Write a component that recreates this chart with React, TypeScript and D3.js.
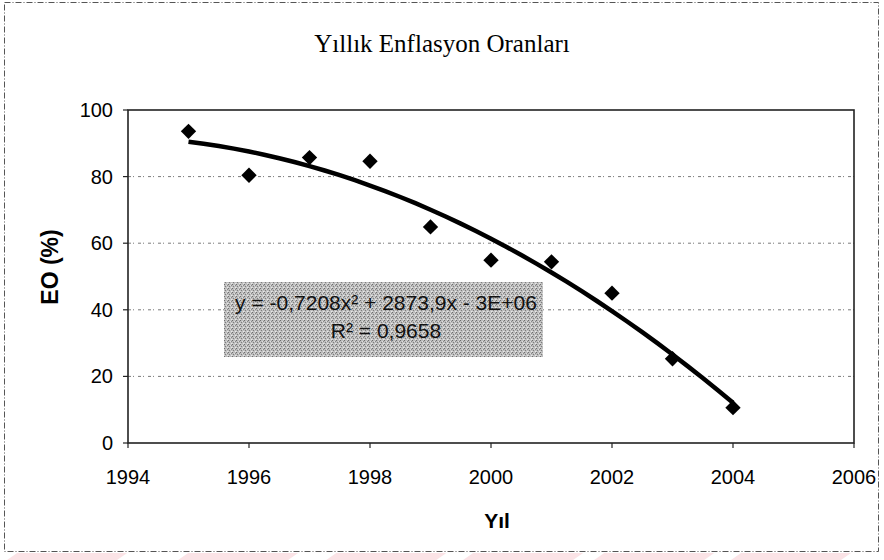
import React, { useEffect } from "react";
import * as d3 from "d3";

const years = [1995, 1996, 1997, 1998, 1999, 2000, 2001, 2002, 2003, 2004];
const rates = [93.6, 80.4, 85.7, 84.6, 64.9, 54.9, 54.4, 45.0, 25.3, 10.6];
const xTicks = [1994, 1996, 1998, 2000, 2002, 2004, 2006];
const yTicks = [0, 20, 40, 60, 80, 100];
const gridTicks = [20, 40, 60, 80];
const title = "Yıllık Enflasyon Oranları";
const xLabel = "Yıl";
const yLabel = "EO (%)";
const eqLine1 = "y = -0,7208x² + 2873,9x - 3E+06";
const eqLine2 = "R² = 0,9658";

// quadratic least squares fit (centered)
function quadFit(xs: number[], ys: number[]) {
  const m = d3.mean(xs)!;
  const u = xs.map((x) => x - m);
  const n = u.length;
  let s1 = 0, s2 = 0, s3 = 0, s4 = 0, t0 = 0, t1 = 0, t2 = 0;
  u.forEach((x, i) => {
    s1 += x; s2 += x * x; s3 += x ** 3; s4 += x ** 4;
    t0 += ys[i]; t1 += x * ys[i]; t2 += x * x * ys[i];
  });
  const A = [[n, s1, s2], [s1, s2, s3], [s2, s3, s4]];
  const B = [t0, t1, t2];
  const det = (M: number[][]) =>
    M[0][0] * (M[1][1] * M[2][2] - M[1][2] * M[2][1]) -
    M[0][1] * (M[1][0] * M[2][2] - M[1][2] * M[2][0]) +
    M[0][2] * (M[1][0] * M[2][1] - M[1][1] * M[2][0]);
  const D = det(A);
  const coef = [0, 1, 2].map((k) => det(A.map((row, i) => row.map((v, j) => (j === k ? B[i] : v)))) / D);
  return (x: number) => coef[0] + coef[1] * (x - m) + coef[2] * (x - m) ** 2;
}

const sans = "Arial, 'Liberation Sans', sans-serif";

export default function App() {
  useEffect(() => {
    document.body.style.margin = "0";
  }, []);

  const left = 128, right = 854, top = 110, bottom = 443;
  const x = d3.scaleLinear().domain([1994, 2006]).range([left, right]);
  const y = d3.scaleLinear().domain([0, 100]).range([bottom, top]);
  const f = quadFit(years, rates);
  const trendX = d3.range(years[0], years[years.length - 1] + 0.001, 0.25);
  const trendPath = d3.line<number>().x((d) => x(d)).y((d) => y(f(d)))(trendX) || "";
  const diamond = d3.symbol().type(d3.symbolDiamond2).size(150)() || "";

  return (
    <svg width={884} height={560} style={{ position: "absolute", left: 0, top: 0, background: "#fff" }}>
      <defs>
        <pattern id="dots" width="4" height="4" patternUnits="userSpaceOnUse">
          <rect width="4" height="4" fill="#bdbdbd" />
          <rect x="0" y="0" width="1" height="1" fill="#6e6e6e" />
          <rect x="2" y="1" width="1" height="1" fill="#dedede" />
          <rect x="1" y="2" width="1" height="1" fill="#7d7d7d" />
          <rect x="3" y="3" width="1" height="1" fill="#e8e8e8" />
          <rect x="3" y="1" width="1" height="1" fill="#8a8a8a" />
          <rect x="0" y="3" width="1" height="1" fill="#d4d4d4" />
        </pattern>
      </defs>
      {/* pink watermark strips at the bottom */}
      {[30, 330, 590, 830, 1060, 1300].map((px, i) => (
        <polygon key={i} points={`${px * 0.57},553 ${px * 0.57 + 110},553 ${px * 0.57 + 100},560 ${px * 0.57 - 10},560`} fill="#fbe3e6" />
      ))}
      {/* outer chart border */}
      <rect x={4.5} y={2.5} width={874} height={549} fill="none" stroke="#555" strokeWidth={1} strokeDasharray="6 2 1 2" />
      {/* title */}
      <text x={442} y={52} textAnchor="middle" fontFamily="'Liberation Serif', 'Times New Roman', serif" fontSize={25} fill="#000">
        {title}
      </text>
      {/* gridlines */}
      {gridTicks.map((t) => (
        <line key={t} x1={left} x2={right} y1={y(t)} y2={y(t)} stroke="#444" strokeWidth={1} strokeDasharray="3 2 1 4" opacity={0.7} />
      ))}
      {/* plot border */}
      <rect x={left} y={top} width={right - left} height={bottom - top} fill="none" stroke="#222" strokeWidth={1.6} />
      {/* y ticks */}
      {yTicks.map((t) => (
        <g key={t}>
          <line x1={left - 5} x2={left} y1={y(t)} y2={y(t)} stroke="#222" strokeWidth={1.2} />
          <text x={left - 15} y={y(t) + 7} textAnchor="end" fontFamily={sans} fontSize={20} fill="#000">
            {t}
          </text>
        </g>
      ))}
      {/* x ticks */}
      {xTicks.map((t) => (
        <g key={t}>
          <line x1={x(t)} x2={x(t)} y1={bottom} y2={bottom + 5} stroke="#222" strokeWidth={1.2} />
          <text x={x(t)} y={bottom + 41} textAnchor="middle" fontFamily={sans} fontSize={20} fill="#000">
            {t}
          </text>
        </g>
      ))}
      {/* axis labels */}
      <text x={497} y={528} textAnchor="middle" fontFamily={sans} fontWeight="bold" fontSize={21} fill="#000">
        {xLabel}
      </text>
      <text transform="translate(58,267) rotate(-90)" textAnchor="middle" fontFamily={sans} fontWeight="bold" fontSize={23} fill="#000">
        {yLabel}
      </text>
      {/* trend line */}
      <path d={trendPath} fill="none" stroke="#000" strokeWidth={4.5} strokeLinejoin="round" />
      {/* points */}
      {years.map((yr, i) => (
        <path key={yr} d={diamond} transform={`translate(${x(yr)},${y(rates[i])})`} fill="#000" />
      ))}
      {/* equation box */}
      <rect x={224} y={282} width={319} height={75} fill="url(#dots)" />
      <text x={386} y={310} textAnchor="middle" fontFamily={sans} fontSize={21} fill="#111">
        {eqLine1}
      </text>
      <text x={386} y={338} textAnchor="middle" fontFamily={sans} fontSize={21} fill="#111">
        {eqLine2}
      </text>
    </svg>
  );
}
